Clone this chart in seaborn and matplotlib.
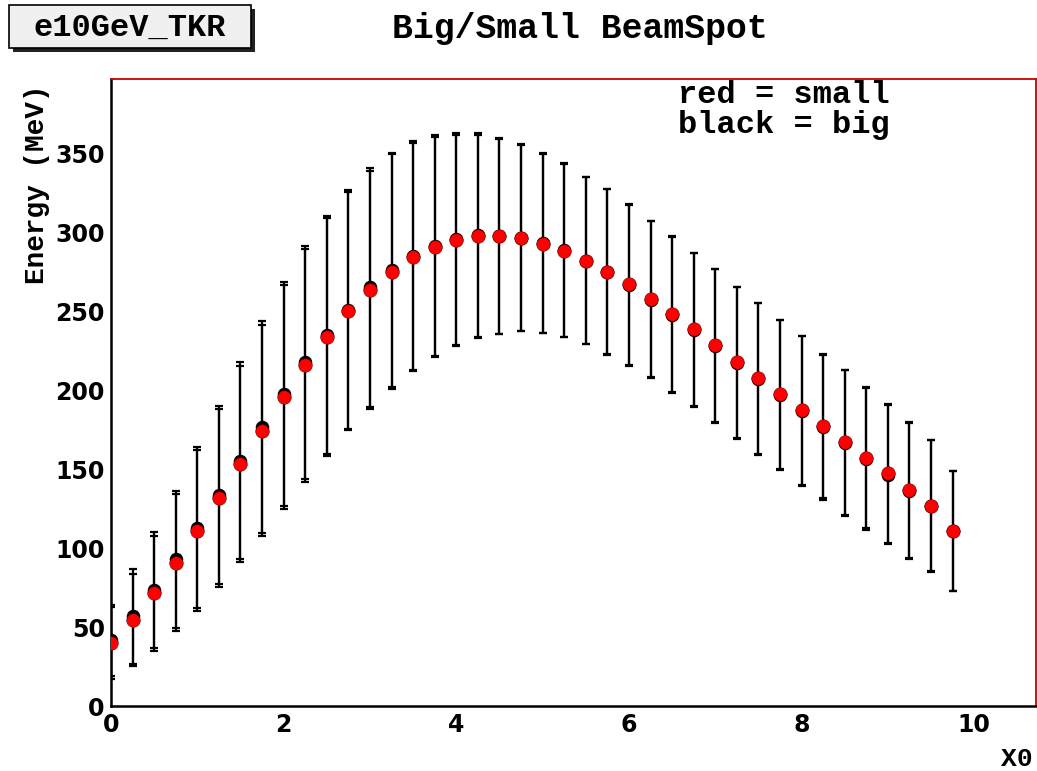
import numpy as np
import pandas as pd
import matplotlib
matplotlib.use("Agg")
import matplotlib.pyplot as plt
from matplotlib.patches import Rectangle
import seaborn as sns

# ---- data ----
x0 = [0.0, 0.25, 0.5, 0.75, 1.0, 1.25, 1.5, 1.75, 2.0, 2.25,
      2.5, 2.75, 3.0, 3.25, 3.5, 3.75, 4.0, 4.25, 4.5, 4.75,
      5.0, 5.25, 5.5, 5.75, 6.0, 6.25, 6.5, 6.75, 7.0, 7.25,
      7.5, 7.75, 8.0, 8.25, 8.5, 8.75, 9.0, 9.25, 9.5, 9.75]

energy_big = [41.5, 56.8, 73.5, 92.8, 112.8, 133.5, 155.3, 176.5, 197.5, 217.5,
              235.0, 251.0, 265.0, 276.0, 285.0, 291.5, 295.5, 298.0, 297.8, 296.5,
              293.0, 288.5, 282.0, 275.0, 266.5, 257.3, 247.5, 238.0, 228.0, 217.0,
              207.0, 196.8, 186.8, 176.5, 166.5, 156.5, 146.5, 136.3, 126.5, 110.7]

energy_small = [39.8, 54.4, 71.3, 90.7, 111.0, 131.6, 153.2, 174.4, 195.5, 215.8,
                233.8, 250.0, 263.4, 275.1, 284.4, 290.7, 295.0, 297.5, 297.5, 296.4,
                292.8, 288.2, 282.0, 275.1, 267.0, 257.9, 248.0, 238.4, 228.3, 217.5,
                207.4, 197.3, 187.3, 177.2, 166.9, 157.2, 147.3, 136.7, 126.8, 110.8]

err_big = [22.6, 30.0, 36.8, 43.5, 51.0, 56.5, 62.5, 67.0, 71.0, 74.0,
           75.5, 75.5, 75.5, 74.3, 72.5, 70.0, 67.0, 64.5, 62.0, 59.3,
           57.0, 55.0, 53.0, 52.5, 51.0, 49.7, 49.5, 48.8, 48.5, 48.0,
           48.0, 47.3, 47.3, 46.0, 46.0, 45.0, 44.0, 43.2, 41.7, 38.0]

err_small = [22.6, 29.3, 36.3, 43.3, 50.8, 56.3, 62.3, 66.8, 70.8, 73.8,
             75.3, 75.3, 75.3, 74.1, 72.3, 69.8, 66.8, 64.3, 61.8, 59.1,
             56.8, 54.8, 52.8, 52.3, 50.8, 49.5, 49.3, 48.6, 48.3, 47.8,
             47.8, 47.1, 47.1, 45.8, 45.8, 44.8, 43.8, 43.0, 41.5, 37.8]

title_text = "Big/Small BeamSpot"
box_text = "e10GeV_TKR"
legend_lines = ["red = small", "black = big"]
xlabel_text = "X0"
ylabel_text = "Energy (MeV)"

df = pd.DataFrame({
    "x0": x0 + x0,
    "energy": energy_big + energy_small,
    "err": err_big + err_small,
    "beam": ["big"] * len(x0) + ["small"] * len(x0),
})

# ---- figure ----
sns.set_theme(style="white")
W, H = 1037, 771
fig = plt.figure(figsize=(W / 100, H / 100), dpi=100)
fig.patch.set_facecolor("white")

ax_l, ax_r, ax_t, ax_b = 111, 1035.5, 79, 706
ax = fig.add_axes([ax_l / W, (H - ax_b) / H, (ax_r - ax_l) / W, (ax_b - ax_t) / H])
ax.set_facecolor("white")

# error bars (both series drawn black)
for beam in ["big", "small"]:
    sub = df[df["beam"] == beam]
    ax.errorbar(sub["x0"], sub["energy"], yerr=sub["err"], fmt="none",
                ecolor="black", elinewidth=1.6, capsize=3.0, capthick=1.6, zorder=2)

sns.scatterplot(data=df[df["beam"] == "big"], x="x0", y="energy", ax=ax,
                color="black", s=95, linewidth=0, zorder=3, legend=False)
sns.scatterplot(data=df[df["beam"] == "small"], x="x0", y="energy", ax=ax,
                color="#ff0000", s=95, linewidth=0.4, edgecolor="#550000",
                zorder=4, legend=False)

ax.set_xlim(0, 10.71)
ax.set_ylim(0, 397)
ax.set_xlabel("")
ax.set_ylabel("")

ax.set_xticks([0, 2, 4, 6, 8, 10])
ax.set_xticks(np.arange(0, 10.71, 0.5), minor=True)
ax.set_yticks(np.arange(0, 351, 50))
ax.set_yticks(np.arange(0, 397, 10), minor=True)

tick_font = dict(family="DejaVu Sans", weight="bold", size=17)
ax.set_xticklabels([str(v) for v in [0, 2, 4, 6, 8, 10]], fontdict=tick_font)
ax.set_yticklabels([str(v) for v in range(0, 351, 50)], fontdict=tick_font)

ax.tick_params(axis="both", which="both", direction="in", top=False, right=False,
               colors="black")
ax.tick_params(axis="y", which="major", length=14, width=1.2, pad=4.5)
ax.tick_params(axis="y", which="minor", length=6.5, width=1.2)
ax.tick_params(axis="x", which="major", length=13, width=1.2, pad=5)
ax.tick_params(axis="x", which="minor", length=6.5, width=1.2)

for side in ["top", "right"]:
    ax.spines[side].set_color("#cc0000")
    ax.spines[side].set_linewidth(1.3)
for side in ["left", "bottom"]:
    ax.spines[side].set_color("black")
    ax.spines[side].set_linewidth(1.8)
    ax.spines[side].set_visible(True)

mono = "Liberation Mono"

def fx(px):
    return px / W

def fy(py):
    return 1 - py / H

# title
fig.text(fx(580), fy(38), title_text, family=mono, weight="bold", size=25,
         ha="center", va="baseline", color="black")

# stats-like box with shadow
bx0, bx1, by0, by1 = 9, 251, 5, 48
fig.patches.append(Rectangle((fx(bx0 + 4), fy(by1 + 4)), fx(bx1 - bx0), (by1 - by0) / H,
                             transform=fig.transFigure, facecolor="#222222",
                             edgecolor="none", zorder=1))
fig.patches.append(Rectangle((fx(bx0), fy(by1)), fx(bx1 - bx0), (by1 - by0) / H,
                             transform=fig.transFigure, facecolor="#f0f0f0",
                             edgecolor="black", linewidth=1.2, zorder=2))
fig.text(fx(130), fy(36), box_text, family=mono, weight="bold", size=23,
         ha="center", va="baseline", color="black", zorder=3)

# legend-like text (one two-line block, tight line spacing as in the reference)
fig.text(fx(678), fy(133), "\n".join(legend_lines), family=mono, weight="bold",
         size=23, ha="left", va="baseline", color="black", linespacing=0.98,
         multialignment="left")

# axis titles
fig.text(fx(1033), fy(759), xlabel_text, family=mono, weight="bold", size=19,
         ha="right", va="center", color="black")
fig.text(fx(37), fy(184), ylabel_text, family=mono, weight="bold", size=20,
         ha="center", va="center", rotation=90, color="black")

fig.savefig("out.png", dpi=100, facecolor="white")
